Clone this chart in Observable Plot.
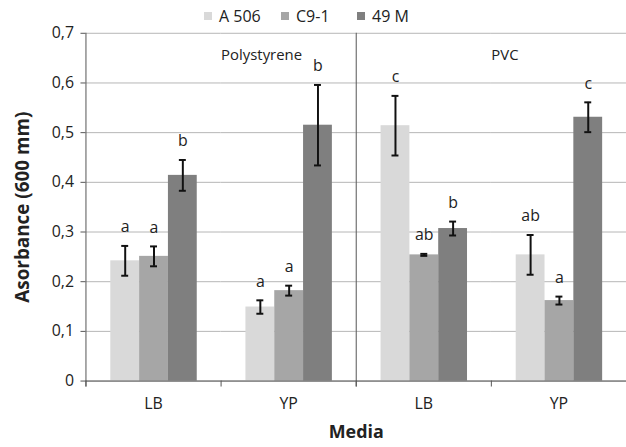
<!DOCTYPE html>
<html><head><meta charset="utf-8">
<script src="https://cdn.jsdelivr.net/npm/d3@7"></script>
<script src="https://cdn.jsdelivr.net/npm/@observablehq/plot@0.6"></script>
<style>
html,body{margin:0;padding:0;overflow:hidden;background:#fff;}
#wrap{position:relative;width:626px;height:447px;overflow:hidden;}
#legend{position:absolute;top:0;left:0;width:626px;height:30px;font-family:"Open Sans";font-size:16px;color:#222;}
.item{position:absolute;top:5px;display:flex;align-items:center;line-height:22px;white-space:nowrap}
.sw{display:inline-block;width:8px;height:8px;margin-right:7px}
svg g[aria-label="fx-axis label"] text{font-weight:bold;font-size:18px}
svg g[aria-label="y-axis label"] text{font-weight:bold;font-size:19px}
</style>
</head><body>
<div id="wrap"><div id="legend"></div></div>
<script>
// ---- data ----
const groups = ["Polystyrene|LB", "Polystyrene|YP", "PVC|LB", "PVC|YP"];
const strains = ["A 506", "C9-1", "49 M"];
const colors = ["#d9d9d9", "#a6a6a6", "#7f7f7f"];
const meanA506 = [0.242, 0.149, 0.514, 0.254];
const meanC91  = [0.251, 0.182, 0.254, 0.162];
const mean49M  = [0.414, 0.515, 0.307, 0.531];
const errA506  = [0.030, 0.0135, 0.060, 0.040];
const errC91   = [0.020, 0.010, 0.002, 0.008];
const err49M   = [0.031, 0.081, 0.014, 0.030];
const letA506  = ["a", "a", "c", "ab"];
const letC91   = ["a", "a", "ab", "a"];
const let49M   = ["b", "b", "b", "c"];
const yTicks = [0, 0.1, 0.2, 0.3, 0.4, 0.5, 0.6, 0.7];
const yTickLabels = ["0", "0,1", "0,2", "0,3", "0,4", "0,5", "0,6", "0,7"];
const mediaLabels = ["Polystyrene", "PVC"];
const mediaAnchors = ["Polystyrene|YP", "PVC|YP"];
const legendLeft = [204, 281, 357];

const means = [meanA506, meanC91, mean49M];
const errs = [errA506, errC91, err49M];
const lets = [letA506, letC91, let49M];
const rows = [];
strains.forEach((s, si) => groups.forEach((g, gi) => rows.push({
  group: g, strain: s, mean: means[si][gi], err: errs[si][gi], letter: lets[si][gi]
})));

const W = 630, H = 447, mT = 33, mB = 64, mL = 86, mR = 0;
const axisColor = "#555";

const chart = Plot.plot({
  width: W, height: H,
  marginTop: mT, marginBottom: mB, marginLeft: mL, marginRight: mR,
  style: {fontFamily: "Open Sans", fontSize: "16px", color: "#222", background: "#fff"},
  fx: {domain: groups, padding: 0},
  x: {domain: strains, paddingInner: 0, paddingOuter: 0.767, axis: null},
  y: {domain: [0, 0.7]},
  color: {domain: strains, range: colors},
  marks: [
    Plot.gridY(yTicks, {stroke: "#b5b5b5", strokeOpacity: 1}),
    Plot.barY(rows, {fx: "group", x: "strain", y: "mean", fill: "strain"}),
    Plot.ruleX(rows, {fx: "group", x: "strain", y1: d => d.mean - d.err, y2: d => d.mean + d.err, stroke: "#111", strokeWidth: 2}),
    Plot.tickY(rows, {fx: "group", x: "strain", y: d => d.mean - d.err, stroke: "#111", strokeWidth: 2, insetLeft: 11, insetRight: 11}),
    Plot.tickY(rows, {fx: "group", x: "strain", y: d => d.mean + d.err, stroke: "#111", strokeWidth: 2, insetLeft: 11, insetRight: 11}),
    Plot.text(rows, {fx: "group", x: "strain", y: d => d.mean + d.err, text: "letter", dy: -19, fontSize: 16, fill: "#222"}),
    Plot.text(mediaLabels, {fx: (d, i) => mediaAnchors[i], text: d => d, frameAnchor: "top-left", dy: 16, fontSize: 15, fill: "#222"}),
    Plot.ruleY([0], {stroke: axisColor}),
    Plot.frame({anchor: "left", stroke: axisColor, insetTop: H - mT - mB, insetBottom: -5}),
    Plot.frame({anchor: "left", fx: groups[0], stroke: axisColor, insetBottom: -5}),
    Plot.frame({anchor: "left", fx: groups[2], stroke: axisColor, insetBottom: -5}),
    Plot.axisY(yTicks, {
      tickFormat: d => yTickLabels[yTicks.indexOf(d)], tickSize: 5, tickPadding: 7,
      stroke: axisColor, fill: "#222", fontSize: 16,
      label: "Asorbance (600 mm)", labelAnchor: "center", labelOffset: 71, labelArrow: false
    }),
    Plot.axisFx({
      anchor: "bottom", tickSize: 0, tickPadding: 17, fontSize: 16, fill: "#222",
      tickFormat: d => d.split("|")[1],
      label: "Media", labelAnchor: "center", labelOffset: 57, labelArrow: false
    })
  ]
});
document.getElementById("wrap").prepend(chart);

const legend = document.getElementById("legend");
strains.forEach((s, i) => {
  const item = document.createElement("div");
  item.className = "item";
  item.style.left = legendLeft[i] + "px";
  const sw = document.createElement("span");
  sw.className = "sw";
  sw.style.background = colors[i];
  item.appendChild(sw);
  item.appendChild(document.createTextNode(s));
  legend.appendChild(item);
});
</script>
</body></html>
